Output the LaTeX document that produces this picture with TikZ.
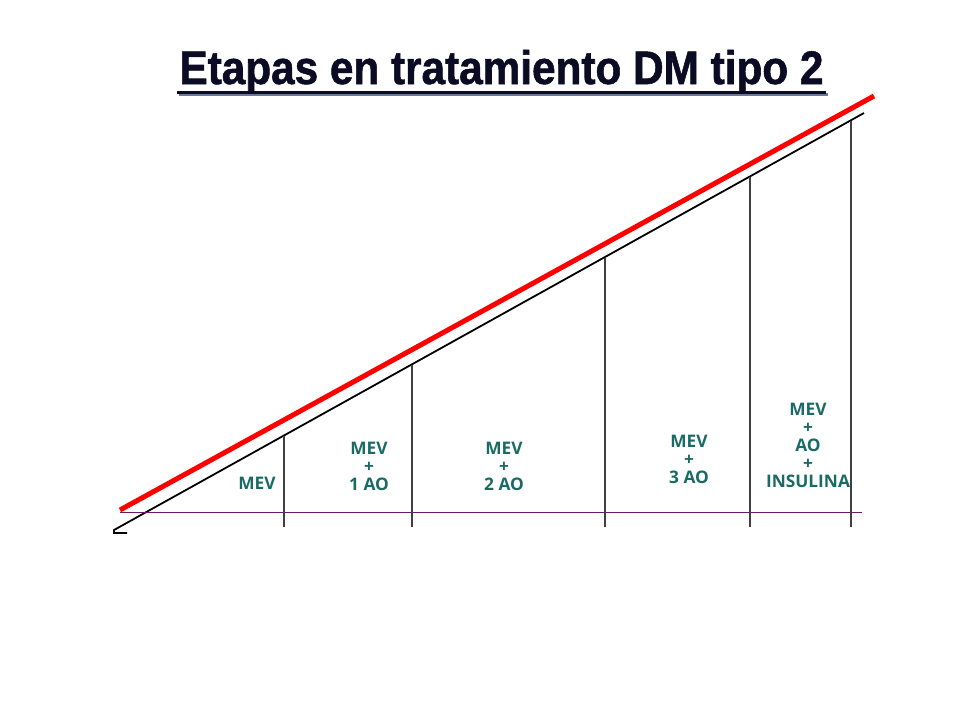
\documentclass[tikz,border=0pt]{standalone}
\usepackage{fontspec}
\setmainfont{Liberation Sans}
\newfontfamily\titlefont{Liberation Sans}[FakeStretch=0.9, FakeBold=1.2]
\newfontfamily\stagefont{Open Sans}
\usepackage{xcolor}
\definecolor{stageteal}{HTML}{1A6B63}
\definecolor{titlenavy}{HTML}{0B0B24}
\definecolor{titleshadow}{HTML}{6A7A98}
\definecolor{baseviolet}{HTML}{6A1A6A}
\tikzset{
	stage/.style={font=\stagefont\bfseries\fontsize{17.3}{18}\selectfont, text=stageteal, align=center, inner sep=0pt},
	divider/.style={draw=black!75, line width=1.9pt}
}

\begin{document}
\begin{tikzpicture}[x=1pt,y=-1pt]
	\useasboundingbox (0,0) rectangle (960,720);
	
	\node[text=titlenavy, anchor=base, font=\titlefont\bfseries\fontsize{47}{47}\selectfont, inner sep=0pt] (title) at (501.5,84) {Etapas en tratamiento DM tipo 2};
	\coordinate (ul1) at (177,92);
	\coordinate (ul2) at (826,92);
	\draw[titleshadow, line width=3pt] ([shift={(2,2)}]ul1) -- ([shift={(2,2)}]ul2);
	\draw[titlenavy, line width=3pt] (ul1) -- (ul2);
	
	\coordinate (low) at (114,530);
	\coordinate (high) at (864,113);
	\coordinate (stub) at (127,533);
	\draw[black, line width=1.8pt] (high) -- (low) |- (stub);
	
	\coordinate (b0) at (120,512);
	\coordinate (b6) at (862,512);
	\draw[baseviolet, line width=0.9pt] (b0) -- (b6);
	
	\coordinate (t1) at (284,435.5);
	\coordinate (t2) at (412,364.5);
	\coordinate (t3) at (605,257.5);
	\coordinate (t4) at (750,177);
	\coordinate (t5) at (851,121);
	\foreach \k/\x in {1/284,2/412,3/605,4/750,5/851}
		\draw[divider] (t\k) -- (\x,527);
	
	\coordinate (r0) at (120,510);
	\coordinate (r1) at (874,96);
	\draw[red, line width=5pt] (r0) -- (r1);
	
	\node[stage] (s0) at (257,483) {MEV};
	\node[stage] (s1) at (369,466) {MEV\\+\\1 AO};
	\node[stage] (s2) at (504,466) {MEV\\+\\2 AO};
	\node[stage] (s3) at (689,459.5) {MEV\\+\\3 AO};
	\node[stage] (s4) at (808,445) {MEV\\+\\AO\\+\\INSULINA};
\end{tikzpicture}
\end{document}
